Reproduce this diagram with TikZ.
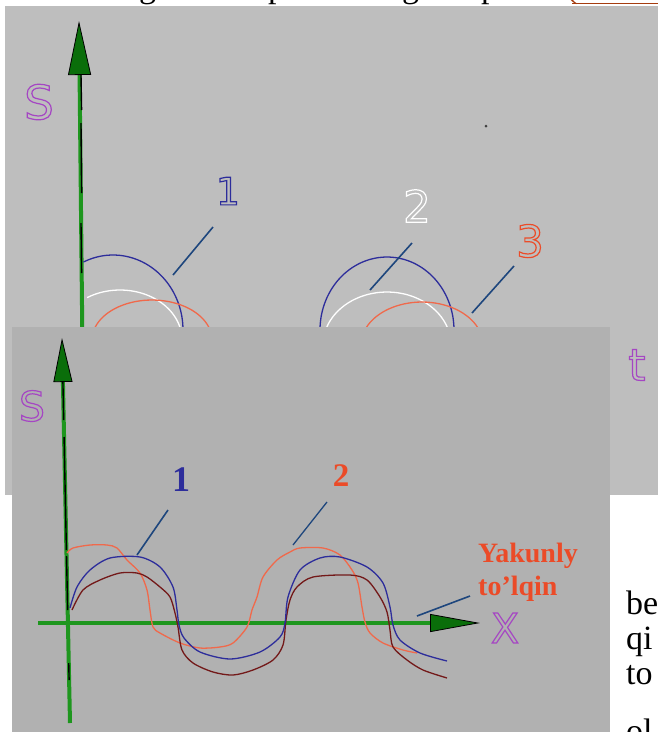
\documentclass[tikz,border=0pt]{standalone}
\usepackage{fontspec}
\setmainfont{Liberation Serif}
\newfontfamily\markfont{DejaVu Sans}
\usetikzlibrary{arrows.meta}

\definecolor{panelA}{RGB}{190,190,190}
\definecolor{panelB}{RGB}{177,177,177}
\definecolor{axisgreen}{RGB}{30,150,30}
\definecolor{tipgreen}{RGB}{10,110,10}
\definecolor{labelpurple}{RGB}{165,70,195}
\definecolor{wavenavy}{RGB}{45,45,155}
\definecolor{waveorange}{RGB}{240,105,75}
\definecolor{labelorange}{RGB}{235,75,40}
\definecolor{wavemaroon}{RGB}{115,25,25}
\definecolor{leaderblue}{RGB}{30,70,125}
\definecolor{linkbrown}{RGB}{165,60,15}

% outline letters (stroked text)
\newcommand\hollow[1]{\special{pdf:literal 1 Tr 1.2 w}#1\special{pdf:literal 0 Tr}}

\begin{document}
\begin{tikzpicture}[
        x=1pt, y=-1pt,
        axisline/.style={draw=axisgreen, line width=4pt},
        axiscore/.style={draw=black, line width=1.4pt},
        leader/.style={draw=leaderblue, line width=1.6pt},
        wave/.style={line width=1.3pt},
        outl/.style={inner sep=0pt, font=\markfont\fontsize{#1}{#1}\selectfont},
        solidlbl/.style={inner sep=0pt, font=\bfseries\fontsize{#1}{#1}\selectfont},
        pagetext/.style={inner sep=0pt, anchor=base west, font=\fontsize{34}{34}\selectfont}
    ]
        \useasboundingbox (0,0) rectangle (658,732);
        \fill[white] (0,0) rectangle (658,732);

        % line of page text above the figure
        \begin{scope}
            \clip (0,0) rectangle (658,6);
            \node[pagetext] (g1) at (139,-3) {g};
            \node[pagetext] (p1) at (268,-3) {p};
            \node[pagetext] (g2) at (402,-3) {g};
            \node[pagetext] (p2) at (481,-3) {p};
            \node[pagetext, text=linkbrown] (lnk) at (566,-3) {(};
            \draw[linkbrown, line width=1.4pt] (572,3.5) -- (658,3.5);
        \end{scope}

        % upper panel: S(t)
        \fill[panelA] (5,6) rectangle (658,495);
        \draw[axisline, -{Triangle[length=54pt, width=23pt, color=black, fill=tipgreen, line width=0.8pt]}] (83,400) -- (79,21);
        \foreach \a/\b in {75/110,123/193,223/273}
            \draw[axiscore] (81,\a) -- (81.6,\b);
        \node[outl=47, text=labelpurple] (sTop) at (39,102) {\hollow{S}};
        \node[outl=44, text=labelpurple] (tTop) at (637,365) {\hollow{t}};

        \draw[wave, wavenavy] plot[domain=-5:115, smooth, variable=\t] ({113+70*cos(\t)}, {330-75*sin(\t)});
        \draw[wave, white] plot[domain=-5:122, smooth, variable=\t] ({120+62*cos(\t)}, {340-50*sin(\t)});
        \draw[wave, waveorange] plot[domain=-10:190, smooth, variable=\t] ({152+60*cos(\t)}, {340-40*sin(\t)});
        \draw[wave, wavenavy] plot[domain=-5:185, smooth, variable=\t] ({387+67*cos(\t)}, {330-73*sin(\t)});
        \draw[wave, white] plot[domain=-10:190, smooth, variable=\t] ({387+64*cos(\t)}, {345-53*sin(\t)});
        \draw[wave, waveorange] plot[domain=-10:190, smooth, variable=\t] ({422+61*cos(\t)}, {345-43*sin(\t)});

        \node[outl=38, text=wavenavy] (one) at (228,191) {\hollow{1}};
        \node[outl=44, text=white] (two) at (417,206) {\hollow{2}};
        \node[outl=44, text=labelorange] (three) at (530,241) {\hollow{3}};
        \coordinate (oneA) at (213,227);  \coordinate (oneB) at (173,275);
        \coordinate (twoA) at (412,243);  \coordinate (twoB) at (370,290);
        \coordinate (threeA) at (514,266); \coordinate (threeB) at (472,313);
        \draw[leader] (oneA) -- (oneB);
        \draw[leader] (twoA) -- (twoB);
        \draw[leader] (threeA) -- (threeB);
        \fill[black!75] (486,126) circle (1.5);

        % lower panel: S(x)
        \fill[panelB] (12,327) rectangle (610,732);
        \draw[axisline, -{Triangle[length=44pt, width=19pt, color=black, fill=tipgreen, line width=0.8pt]}] (70,723) -- (62,338);
        \foreach \a/\b in {382/420,437/550,556/610,663/680}
            \draw[axiscore] ({62+8*(\a-338)/385},\a) -- ({62+8*(\b-338)/385},\b);
        \draw[axisline, -{Triangle[length=50pt, width=18pt, color=black, fill=tipgreen, line width=0.8pt]}] (38,623) -- (480,623);
        \node[outl=41, text=labelpurple] (sBot) at (32,406) {\hollow{S}};
        \node[outl=41, text=labelpurple] (xBot) at (505,628) {\hollow{X}};

        \draw[wave, waveorange] plot[smooth, tension=0.5] coordinates {(67,553) (73,548) (90,545) (107,545) (117,548) (127,560) (140,573) (147,590) (150,610) (153,627) (160,633) (180,643) (200,648) (220,647) (233,643) (247,627) (252,610) (257,597) (263,577) (277,560) (290,552) (300,548) (323,548) (340,555) (352,570) (358,583) (362,607) (365,622) (370,633) (383,643) (403,650) (417,653)};
        \draw[wave, wavemaroon] plot[smooth, tension=0.5] coordinates {(72,610) (83,590) (100,580) (120,573) (137,573) (147,577) (160,587) (170,597) (175,613) (178,627) (182,650) (193,663) (213,672) (233,675) (253,670) (273,660) (283,645) (286,620) (290,600) (297,587) (313,577) (350,575) (367,580) (380,597) (387,612) (390,630) (393,647) (407,660) (423,670) (447,678)};
        \draw[wave, wavenavy] plot[smooth, tension=0.5] coordinates {(70,608) (77,587) (90,570) (110,558) (140,557) (160,567) (173,587) (177,610) (179,625) (184,638) (200,652) (230,659) (260,652) (280,637) (285,623) (288,597) (300,570) (320,558) (340,557) (367,567) (383,583) (390,607) (393,625) (400,640) (420,653) (447,661)};

        \node[solidlbl=36, text=wavenavy] (oneBot) at (181,480) {1};
        \node[solidlbl=33, text=labelorange] (twoBot) at (341,476) {2};
        \node[solidlbl=28, text=labelorange, align=left, anchor=north west, font=\bfseries\fontsize{28}{33}\selectfont] (final) at (478,543) {Yakunly\\to'lqin};
        \coordinate (oneBotA) at (168,510);  \coordinate (oneBotB) at (137,555);
        \coordinate (twoBotA) at (327,502);  \coordinate (twoBotB) at (293,545);
        \coordinate (finalA) at (470,596);   \coordinate (finalB) at (417,616);
        \draw[leader] (oneBotA) -- (oneBotB);
        \draw[leader, line width=1.3pt] (twoBotA) -- (twoBotB);
        \draw[leader] (finalA) -- (finalB);

        % page text to the right of the figure
        \begin{scope}
            \clip (610,495) rectangle (658,732);
            \node[pagetext] (w1) at (626,614) {be};
            \node[pagetext] (w2) at (626,649) {qi};
            \node[pagetext] (w3) at (626,684) {to};
            \node[pagetext] (w4) at (626,742) {ol};
        \end{scope}
    \end{tikzpicture}
\end{document}
